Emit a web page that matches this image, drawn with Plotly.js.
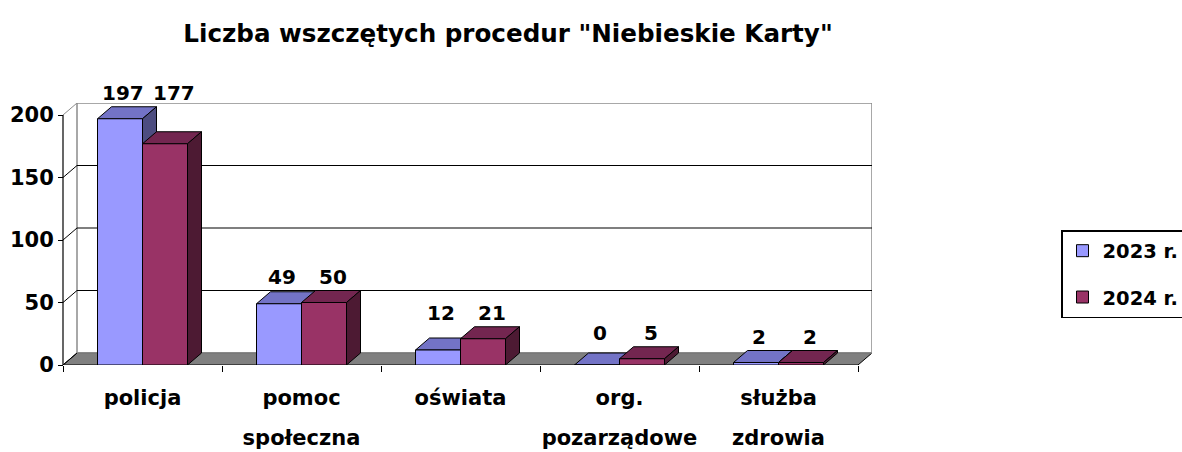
<!DOCTYPE html>
<html>
<head>
<meta charset="utf-8">
<script src="https://cdn.plot.ly/plotly-3.0.1.min.js"></script>
<style>html,body{margin:0;padding:0;background:#fff;}#chart{width:1182px;height:452px;}</style>
</head>
<body>
<div id="chart"></div>
<script>
// ---- data ----
const categories = ['policja', 'pomoc społeczna', 'oświata', 'org. pozarządowe', 'służba zdrowia'];
const tickLine1 = ['policja', 'pomoc', 'oświata', 'org.', 'służba'];
const tickLine2 = ['', 'społeczna', '', 'pozarządowe', 'zdrowia'];
const seriesNames = ['2023 r.', '2024 r.'];
const values2023 = [197, 49, 12, 0, 2];
const values2024 = [177, 50, 21, 5, 2];
const yTickValues = [0, 50, 100, 150, 200];
const chartTitle = 'Liczba wszczętych procedur "Niebieskie Karty"';

// ---- style / geometry ----
const W = 1182, H = 452;
const frontLeft = 63, frontRight = 858, floorY = 365, topY = 115;
const yMax = 200;
const depthX = 14, depthY = 12;
const nCat = categories.length;
const pxPerCat = (frontRight - frontLeft) / nCat;
const pxPerUnit = (floorY - topY) / yMax;
const dxD = depthX / pxPerCat;
const dyD = depthY / pxPerUnit;
const padLeftPx = 3;
const xRange = [-0.5 - padLeftPx / pxPerCat, nCat - 0.5 + dxD];
const yRange = [0, yMax + dyD];
const xDomPx = [frontLeft - padLeftPx, frontRight + depthX];
const yDomPx = [floorY, topY - depthY];
const barW = 45 / pxPerCat;

const colors = {
  front: ['#9999FF', '#993366'],
  top: ['#7373C6', '#732650'],
  side: ['#4D4D80', '#4D1A33']
};
const FONT = '"DejaVu Sans", Verdana, sans-serif';
const series = [values2023, values2024];
const offsets = [-barW, 0];
const labelShift = [3, 9];

function poly(pts) {
  return 'M' + pts.map(p => p[0] + ',' + p[1]).join('L') + 'Z';
}

const shapes = [];
// floor
shapes.push({type: 'path', xref: 'x', yref: 'y', layer: 'below',
  path: poly([[-0.5, 0], [nCat - 0.5, 0], [nCat - 0.5 + dxD, dyD], [-0.5 + dxD, dyD]]),
  fillcolor: '#808080', line: {color: '#000000', width: 1}});
// back wall frame
shapes.push({type: 'rect', xref: 'x', yref: 'y', layer: 'below',
  x0: -0.5 + dxD, x1: nCat - 0.5 + dxD, y0: dyD, y1: yMax + dyD,
  line: {color: '#8C8C8C', width: 1.5}});
// back wall gridlines
yTickValues.filter(v => v > 0 && v < yMax).forEach(v => {
  shapes.push({type: 'line', xref: 'x', yref: 'y', layer: 'below',
    x0: -0.5 + dxD, x1: nCat - 0.5 + dxD, y0: v + dyD, y1: v + dyD,
    line: {color: '#000000', width: 1.2}});
});
// left wall diagonals
yTickValues.forEach(v => {
  shapes.push({type: 'line', xref: 'x', yref: 'y', layer: 'below',
    x0: -0.5, x1: -0.5 + dxD, y0: v, y1: v + dyD,
    line: {color: v === yMax ? '#8C8C8C' : '#000000', width: 1}});
});
// front value axis line
shapes.push({type: 'line', xref: 'x', yref: 'y', layer: 'above',
  x0: -0.5, x1: -0.5, y0: 0, y1: yMax, line: {color: '#000000', width: 1.2}});

// 3D faces of bars (top and right side)
for (let i = 0; i < nCat; i++) {
  for (let s = 0; s < 2; s++) {
    const v = series[s][i];
    const xl = i + offsets[s], xr = xl + barW;
    shapes.push({type: 'path', xref: 'x', yref: 'y', layer: 'below',
      path: poly([[xl, v], [xr, v], [xr + dxD, v + dyD], [xl + dxD, v + dyD]]),
      fillcolor: colors.top[s], line: {color: '#000000', width: 1}});
    shapes.push({type: 'path', xref: 'x', yref: 'y', layer: 'below',
      path: poly([[xr, 0], [xr + dxD, dyD], [xr + dxD, v + dyD], [xr, v]]),
      fillcolor: colors.side[s], line: {color: '#000000', width: 1}});
  }
}

// data labels
const annotations = [];
for (let i = 0; i < nCat; i++) {
  const m = Math.max(values2023[i], values2024[i]);
  for (let s = 0; s < 2; s++) {
    annotations.push({xref: 'x', yref: 'y', x: i + offsets[s] + barW / 2, y: m,
      xshift: labelShift[s], yshift: 26, yanchor: 'middle', xanchor: 'center', showarrow: false,
      text: '<b>' + series[s][i] + '</b>', font: {family: FONT, size: 20, color: '#000'}});
  }
}

const traces = [0, 1].map(s => ({
  type: 'bar', name: seriesNames[s], x: categories, y: series[s],
  width: barW, offset: offsets[s], legendgroup: 'g' + s,
  marker: {color: colors.front[s], line: {color: '#000000', width: 1}},
  hoverinfo: 'x+y+name'
}));
traces.push({type: 'scatter', x: [], y: [], xaxis: 'x2', yaxis: 'y', showlegend: false, hoverinfo: 'skip'});

const layout = {
  width: W, height: H,
  margin: {l: 0, r: 0, t: 0, b: 0, autoexpand: false},
  paper_bgcolor: '#ffffff', plot_bgcolor: 'rgba(0,0,0,0)',
  font: {family: FONT, color: '#000000'},
  barmode: 'overlay',
  title: {text: '<b>' + chartTitle + '</b>', font: {family: FONT, size: 24.6, color: '#000'},
    x: 508 / W, xanchor: 'center', xref: 'paper', y: 1 - 33 / H, yanchor: 'middle', yref: 'paper'},
  xaxis: {type: 'category', categoryorder: 'array', categoryarray: categories,
    domain: [xDomPx[0] / W, xDomPx[1] / W], range: xRange,
    tickmode: 'array', tickvals: categories, ticktext: tickLine1, tickson: 'boundaries',
    ticks: 'outside', ticklen: 6, tickcolor: '#000', tickwidth: 1,
    showline: false, showgrid: false, zeroline: false, ticklabelstandoff: 18,
    tickfont: {family: FONT, size: 21, weight: 700, color: '#000'}, fixedrange: true},
  xaxis2: {overlaying: 'x', anchor: 'y', side: 'bottom', type: 'linear', range: xRange,
    tickmode: 'array', tickvals: categories.map((c, i) => i), ticktext: tickLine2,
    ticks: '', showline: false, showgrid: false, zeroline: false, ticklabelstandoff: 58,
    tickfont: {family: FONT, size: 21, weight: 700, color: '#000'}, fixedrange: true},
  yaxis: {domain: [1 - yDomPx[0] / H, 1 - yDomPx[1] / H], range: yRange,
    anchor: 'free', position: frontLeft / W,
    tickmode: 'array', tickvals: yTickValues, ticktext: yTickValues.map(String),
    ticks: 'outside', ticklen: 5, tickcolor: '#000', tickwidth: 1,
    showline: false, showgrid: false, zeroline: false,
    tickfont: {family: FONT, size: 21, weight: 700, color: '#000'}, fixedrange: true},
  legend: {x: 1061 / W, y: 1 - 230 / H, xanchor: 'left', yanchor: 'top',
    bordercolor: '#000', borderwidth: 1.5, bgcolor: '#fff',
    traceorder: 'grouped', tracegroupgap: 18, valign: 'middle',
    font: {family: FONT, size: 19.5, weight: 700, color: '#000'}},
  shapes: shapes,
  annotations: annotations,
  showlegend: true
};

Plotly.newPlot('chart', traces, layout, {displayModeBar: false, staticPlot: true});
</script>
</body>
</html>
